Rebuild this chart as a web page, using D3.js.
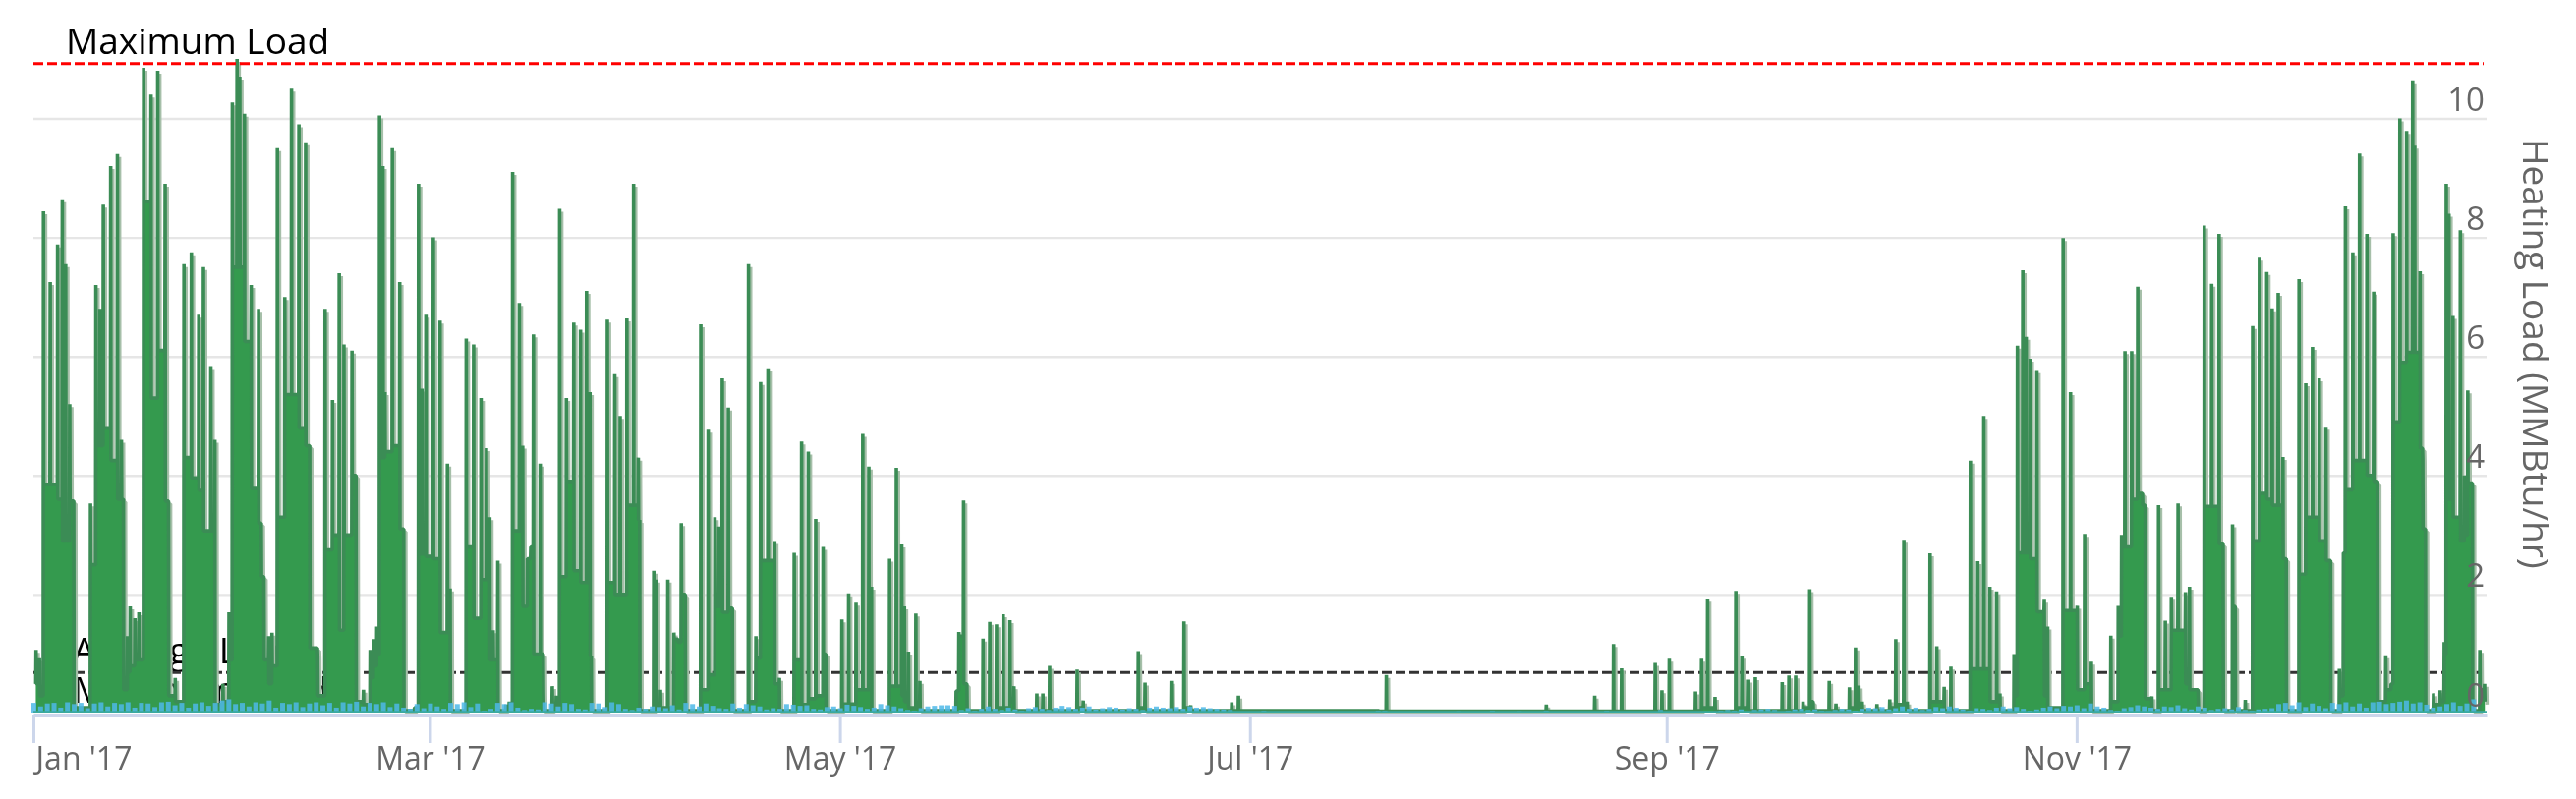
<!DOCTYPE html>
<html>
<head>
<meta charset="utf-8">
<script src="https://cdn.jsdelivr.net/npm/d3@7/dist/d3.min.js"></script>
<style>
html,body{margin:0;padding:0;background:#fff;}
svg{display:block;filter:blur(0.55px);}
text{font-family:"Open Sans",sans-serif;}
</style>
</head>
<body>
<svg id="chart" width="2621" height="813"></svg>
<script>
const yearStart = "2017-01-01T00:00:00Z";
const yearEnd = "2018-01-01T00:00:00Z";
const monthTicks = ["2017-01-01","2017-03-01","2017-05-01","2017-07-01","2017-09-01","2017-11-01"];
const monthLabels = ["Jan '17","Mar '17","May '17","Jul '17","Sep '17","Nov '17"];
const loadTicks = [0,2,4,6,8,10];
const maximumLoad = 10.92;
const averageLoad = 0.69;
const yAxisTitle = "Heating Load (MMBtu/hr)";

// Heating load: [day of year, peak MMBtu/hr, level after the peak]
const heatingPeaks = [
[.4,1.07,.5],[.9,.93,.3],[1.5,8.44,3.85],[2.5,7.25,3.85],[3.6,7.88,3.6],[4.3,8.64,2.9],[4.8,7.55,2.9],[5.4,5.2,3.57],[6,3.57,.1],
[8.5,3.53,2.5],[9.3,7.2,4.5],[9.9,6.8,4.5],[10.4,8.55,4.8],[11.5,9.2,4.25],[12.5,9.4,3.6],[13.1,4.6,3.6],[13.4,3.6,.4],
[14,1.3,.7],[14.4,1.8,.8],[15.1,1.6,.9],[15.7,1.7,.9],[16.4,10.85,8.6],[17.5,10.4,5.3],[18.5,10.8,6.1],[19.6,8.9,3.57],[20.1,3.57,.3],
[21.1,.6,.2],[22.4,7.55,4.3],[23.5,7.75,3.96],[24.6,6.7,3.75],[25.3,7.5,3.07],[26.4,5.84,3.07],[27,4.6,.15],
[28.2,.5,.2],[29.1,1.7,.9],[29.6,10.27,7.5],[30.3,11,7.5],[30.7,10.7,7.5],[31.4,10.08,6.25],[32.4,7.2,3.78],[33.5,6.8,3.2],[33.9,3.2,2.3],[34.3,2.3,.9],
[35,1.3,.5],[35.5,1.36,.8],[36.3,9.5,3.3],[37.4,7,5.36],[38.4,10.5,5.36],[39.5,9.9,4.8],[40.5,9.6,4.5],[41.1,4.5,1.1],[42.3,.96,.3],
[43.4,6.8,2.75],[44.5,5.27,3],[45.5,7.4,1.4],[46.2,6.2,3],[47.4,6.1,4],[48,4,.2],[49.1,.4,.15],[50.1,1.07,.6],[50.6,1.25,.8],[51.1,1.46,1],
[51.5,10.05,4.3],[52,9.2,4.3],[52.3,5.4,4.4],[53.4,9.5,4.5],[54.5,7.25,3.1],[55.1,3.1,.05],[56.7,.1,.1],
[57.3,8.9,2.68],[57.8,5.46,2.68],[58.4,6.7,2.64],[59.5,8,2.6],[60.5,6.6,1.36],[61.6,4.2,1.36],[62,2.1,.05],
[64.4,6.3,2.8],[65.5,6.2,1.6],[66.6,5.3,2.25],[67.4,4.46,2.25],[67.9,3.3,.9],[68.4,1.4,.9],[69.1,2.57,.05],[70.3,.15,.12],[70.8,.2,.1],
[71.3,9.1,3.07],[72.3,6.9,3.07],[72.8,4.5,1.8],[73.5,2.6,2.6],[74,2.8,2.8],[74.4,6.37,1],[75.4,4.2,1],[75.9,.35,.05],[77.2,.46,.15],[77.8,.3,.1],
[78.3,8.48,2.3],[79.3,5.3,3.9],[80.4,6.57,2.4],[81.4,6.45,2.2],[82.3,7.1,2.2],[82.8,5.4,.96],[83,.96,.05],
[85.4,6.62,2.2],[86.5,5.7,2],[87.3,5,2],[88.3,6.64,3.5],[89.3,8.9,3.5],[90,4.3,3.25],[90.2,3.25,.05],
[92.3,2.4,.3],[92.7,2.25,.1],[93.3,.4,.1],[94.4,2.25,.1],[95.3,1.36,1.25],[95.9,1.25,1.2],[96.4,3.2,2],[97,2,.05],
[99.3,6.54,.4],[100.4,4.77,.65],[101.4,3.3,1.8],[102,3.14,1.8],[102.5,5.63,1.7],[103.4,5.14,1.77],[104,1.77,.05],
[106.4,7.55,.2],[107.5,1.3,.93],[108.2,5.57,2.57],[109.3,5.8,2.57],[110.3,2.9,.5],[111,.6,.05],
[113.2,2.7,.9],[114.3,4.57,.15],[115.3,4.4,.25],[116.4,3.27,.3],[117.5,2.8,1],[117.9,1,.05],
[120.3,1.58,.16],[121.3,2.02,.16],[122.4,1.86,.4],[123.4,4.7,.4],[124.3,4.15,.4],[124.7,2.13,.05],
[127.4,2.6,.46],[128.4,4.13,.46],[129.2,2.84,.3],[129.6,1.8,.2],[130.2,1.04,.1],[131.3,1.68,.1],[131.9,.55,.05],
[137.3,.38,.38],[137.7,1.37,1.3],[138.4,3.58,.5],[138.9,.5,.05],
[141.3,1.26,.05],[142.3,1.54,.05],[143.3,1.5,.1],[144.3,1.67,.1],[145.3,1.57,.2],[145.9,.46,.05],
[149.3,.34,.05],[150.2,.34,.05],[151.2,.8,.05],[155.3,.74,.1],[156.2,.22,.05],[164.4,1.05,.1],[165.4,.52,.05],
[169.3,.55,.05],[171.2,1.55,.1],[172.2,.14,.05],[178.3,.19,.05],[179.3,.3,.05],
[200.2,.05,.04],[201.3,.65,.04],[225.1,.15,.04],[232.3,.3,.04],[235.1,1.17,.04],[236.3,.76,.04],
[241.3,.85,.04],[242.3,.39,.04],[243.4,.92,.04],[247.3,.37,.05],[248.2,.92,.1],[249.1,1.93,.1],[250.2,.28,.04],
[253.3,2.06,.1],[254.2,.97,.1],[255.2,.57,.05],[256.2,.61,.05],[260.2,.53,.05],[261.2,.64,.05],[262.2,.64,.05],
[263.3,.2,.1],[264.3,2.09,.2],[264.8,.2,.05],[267.2,.55,.05],[268.2,.17,.05],[270.2,.44,.1],[271.1,1.11,.1],[271.6,.47,.15],[272.1,.2,.05],
[274.3,.16,.05],[276.2,.24,.1],[277.1,1.25,.15],[278.3,2.92,.15],[278.8,.2,.05],
[282.2,2.69,.2],[283.2,1.13,.2],[284.3,.45,.05],[285.3,.79,.05],
[288.2,4.25,.75],[289.3,2.56,.75],[290.2,5,.75],[291.1,2.13,.2],[292.1,2.05,.2],[292.6,.34,.05],[294.7,1,.3],
[295.2,6.18,2.7],[296,7.45,2.7],[296.5,6.33,2.7],[297.1,5.96,2.6],[298.1,5.77,1.71],[299.2,1.91,.3],[299.7,1.46,.1],
[302,7.99,1.73],[303.1,5.4,1.73],[304.1,1.81,.4],[305.2,3.02,.5],[306.2,.87,.05],
[309.1,1.31,.2],[310.2,1.81,1.3],[310.7,3,2.8],[311.2,6.09,2.8],[312.2,6.09,3.6],[313.1,7.17,3.7],[313.8,3.7,3.5],[314.2,3.5,.25],[315.2,.29,.05],
[316.2,3.5,.4],[317.2,1.56,.4],[318.1,1.96,1.4],[319.1,3.53,1.4],[320.2,2.04,.5],[320.8,2.13,.4],[322.1,.26,.05],
[323,8.2,3.48],[324.1,7.22,3.48],[325.2,8.06,2.85],[325.8,2.85,.05],[327.2,3.18,1.8],[327.6,1.8,.05],[329.1,.23,.05],
[330.2,6.51,2.9],[331.2,7.66,3.7],[332.3,7.42,3.6],[333.1,6.81,3.5],[334,7.07,3.5],[334.7,4.31,2.6],[335.2,2.6,.05],
[337.1,7.3,2.34],[338.1,5.55,3.3],[339.1,6.16,3.3],[340.1,5.63,2.9],[341.1,4.82,2.57],[341.8,2.57,.05],
[343.1,.75,.3],[343.7,2.7,2.7],[344,8.52,3.76],[345.1,7.75,4.25],[346.1,9.41,4.25],[347.2,8.06,4],[348.2,7.09,3.9],[348.8,3.9,.2],[350,.98,.4],[350.8,.5,.5],
[351.1,8.07,4.9],[352.1,10,5.9],[353.1,9.79,6.07],[354,10.64,6.07],[354.3,9.54,6.07],[355.1,7.43,4.46],[355.5,4.29,3.1],[355.9,3.1,.05],
[357.1,.34,.15],[358.1,.39,.2],[358.7,1.2,1],[359,8.9,3.6],[359.4,8.4,3.6],[360,6.68,3.3],[361.1,8.12,2.9],[361.7,4,3],[362.2,5.43,3.87],[362.9,3.87,.05],
[364,1.07,.4],[364.7,.5,.2]
];

// Minimum-load series: one reading per day, January to December
const minLoadDaily = [
.18,.12,.17,.18,.10,.19,.16,.18,.09,.17,.19,.12,.18,.16,.19,.10,.18,.17,.11,.19,.20,.14,.18,.10,.17,.19,.13,.18,.22,.24,.16,
.18,.12,.19,.17,.22,.10,.18,.16,.19,.11,.17,.19,.14,.18,.10,.19,.17,.20,.12,.18,.16,.19,.11,.17,.10,.08,.16,
.09,.17,.12,.08,.18,.16,.19,.11,.17,.05,.08,.18,.16,.19,.10,.06,.08,.07,.19,.17,.12,.18,.16,.08,.07,.18,.17,.11,.19,.16,.08,
.06,.10,.08,.12,.11,.09,.14,.07,.18,.16,.12,.17,.13,.09,.08,.17,.10,.16,.14,.12,.07,.09,.08,.16,.15,.13,.14,.08,.07,.11,
.12,.09,.15,.13,.11,.08,.10,.16,.14,.12,.09,.06,.05,.09,.12,.13,.14,.14,.13,.06,.09,.05,.08,.12,.08,.06,.10,.07,.05,.09,.11,
.08,.06,.10,.13,.11,.08,.10,.12,.07,.09,.11,.10,.07,.09,.08,.06,.10,.12,.10,.09,.11,.08,.12,.10,.11,.09,.08,.07,.06,.03,
.03,.03,.03,.05,.03,.03,.03,.03,.03,.03,.03,.03,.03,.03,.03,.03,.03,.03,.03,.03,.05,.05,.03,.03,.03,.03,.03,.03,.03,.03,.03,
.03,.04,.03,.03,.03,.03,.05,.03,.03,.03,.04,.03,.03,.03,.05,.03,.03,.03,.03,.03,.03,.03,.03,.05,.03,.03,.03,.03,.03,.03,.03,
.06,.03,.03,.03,.03,.03,.03,.03,.03,.05,.06,.05,.07,.03,.06,.07,.08,.06,.03,.05,.07,.08,.06,.07,.05,.04,.06,.08,.07,.05,
.08,.10,.09,.11,.07,.09,.12,.08,.10,.06,.08,.11,.09,.12,.10,.07,.05,.09,.08,.06,.10,.12,.09,.11,.08,.05,.07,.10,.12,.09,.13,
.12,.14,.09,.17,.12,.10,.06,.05,.09,.11,.14,.12,.10,.08,.12,.11,.14,.09,.07,.12,.10,.06,.08,.09,.07,.11,.06,.05,.07,.08,
.09,.16,.18,.14,.19,.11,.17,.13,.09,.18,.16,.19,.12,.17,.10,.19,.20,.16,.18,.20,.22,.17,.19,.15,.10,.12,.16,.19,.13,.17,.24
];

const margin = {left: 34, right: 2530, base: 726, top: 120.5, lineEnd: 2527};
const svg = d3.select("#chart");

const x = d3.scaleUtc().domain([new Date(yearStart), new Date(yearEnd)]).range([margin.left, margin.right]);
const y = d3.scaleLinear().domain([0, 10]).range([margin.base, margin.top]);
const dayToDate = d => new Date(new Date(yearStart).getTime() + d * 864e5);

// one-hour flanks either side of each peak
const flank = 1 / 24;
const trace = [];
heatingPeaks.forEach((p, i) => {
  const before = i ? heatingPeaks[i - 1][2] : p[2];
  trace.push([p[0] - flank, before], [p[0], p[1]], [p[0] + flank, p[2]]);
});

// gridlines
svg.append("g").attr("class", "grid")
  .attr("transform", `translate(${margin.left},0)`)
  .call(d3.axisLeft(y).tickValues(loadTicks.filter(v => v > 0)).tickSize(-(margin.right - margin.left)).tickFormat(""))
  .call(g => g.select(".domain").remove())
  .call(g => g.selectAll("line").attr("stroke", "#e6e6e6").attr("stroke-width", 2.4));

// plot-line labels that sit under the series
const labelX = 74;
svg.append("text").attr("x", labelX).attr("y", y(averageLoad) - 9).attr("font-size", 37).attr("fill", "#000").text("Average Load");
svg.append("text").attr("x", labelX).attr("y", y(averageLoad) + 31).attr("font-size", 37).attr("fill", "#000").text("Minimum Load");

// plot lines
svg.append("line").attr("x1", margin.left).attr("x2", margin.lineEnd)
  .attr("y1", y(averageLoad)).attr("y2", y(averageLoad))
  .attr("stroke", "#333").attr("stroke-width", 3).attr("stroke-dasharray", "10 4");

// heating load
const lineGen = d3.line().x(d => x(dayToDate(d[0]))).y(d => y(d[1]));
const areaGen = d3.area().x(d => x(dayToDate(d[0]))).y0(y(0)).y1(d => y(d[1]));

svg.append("path").datum(trace).attr("d", lineGen).attr("fill", "none")
  .attr("stroke", "#a6bfa9").attr("stroke-width", 3.4).attr("stroke-linejoin", "bevel")
  .attr("transform", "translate(2.2,3)");
svg.append("path").datum(trace).attr("d", areaGen).attr("fill", "#349a4e");
svg.append("path").datum(trace).attr("d", lineGen).attr("fill", "none")
  .attr("stroke", "#3b8c55").attr("stroke-width", 3.6).attr("stroke-linejoin", "bevel");

// minimum load
svg.append("g").selectAll("rect").data(minLoadDaily).join("rect")
  .attr("x", (d, i) => x(dayToDate(i)) - 2)
  .attr("width", 5)
  .attr("y", d => y(d))
  .attr("height", d => y(0) - y(d))
  .attr("fill", "#4db9e8").attr("opacity", 0.85);
svg.append("line").attr("x1", margin.left).attr("x2", margin.right)
  .attr("y1", y(0.03)).attr("y2", y(0.03))
  .attr("stroke", "#3aa9a0").attr("stroke-width", 2);

// maximum load
svg.append("line").attr("x1", margin.left).attr("x2", margin.lineEnd)
  .attr("y1", y(maximumLoad)).attr("y2", y(maximumLoad))
  .attr("stroke", "#f00").attr("stroke-width", 3).attr("stroke-dasharray", "10 4");
svg.append("text").attr("x", 67).attr("y", 55).attr("font-size", 37).attr("fill", "#000").text("Maximum Load");

// x axis
const xAxis = svg.append("g").attr("transform", `translate(0,${margin.base + 2})`)
  .call(d3.axisBottom(x)
    .tickValues(monthTicks.map(m => new Date(m + "T00:00:00Z")))
    .tickFormat((d, i) => monthLabels[i])
    .tickSize(28).tickSizeOuter(0));
xAxis.select(".domain").attr("stroke", "#ccd6eb").attr("stroke-width", 3);
xAxis.selectAll(".tick line").attr("stroke", "#ccd6eb").attr("stroke-width", 3);
xAxis.selectAll(".tick text")
  .attr("font-family", '"Open Sans",sans-serif').attr("font-size", 32).attr("fill", "#666")
  .attr("dy", 0).attr("y", 55)
  .attr("text-anchor", (d, i) => i ? "middle" : "start")
  .attr("dx", (d, i) => i ? 0 : 2);

// y axis
const yAxis = svg.append("g").attr("transform", `translate(${margin.right - 2},0)`)
  .call(d3.axisLeft(y).tickValues(loadTicks).tickSize(0).tickPadding(0));
yAxis.select(".domain").remove();
yAxis.selectAll(".tick text")
  .attr("font-family", '"Open Sans",sans-serif').attr("font-size", 33).attr("fill", "#666")
  .attr("dy", 0).attr("y", -8);

svg.append("text")
  .attr("transform", "translate(2567,360) rotate(90)")
  .attr("text-anchor", "middle").attr("font-size", 37).attr("fill", "#666")
  .text(yAxisTitle);
</script>
</body>
</html>
